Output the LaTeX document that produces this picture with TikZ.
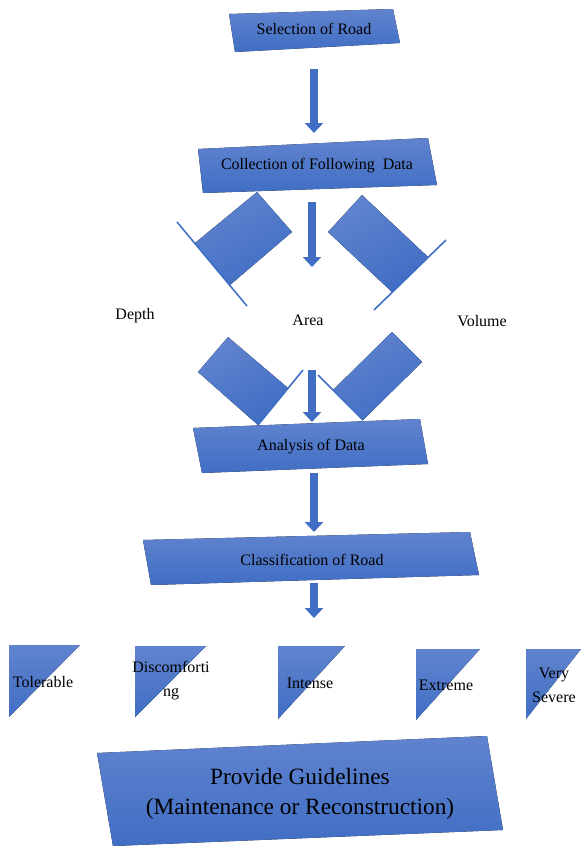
\documentclass[tikz,border=0pt]{standalone}
\usepackage{fontspec}
\setmainfont{Liberation Serif}
\usepackage{tikz}
\usetikzlibrary{
    arrows.meta,
    calc,
    positioning
}
\definecolor{boxtop}{RGB}{96,131,206}
\definecolor{boxbot}{RGB}{64,110,196}
\newcommand{\skewbox}[4]{
    \fill[boxfill] (#1) -- (#2) -- (#3) -- (#4) -- cycle;
}
\newcommand{\flagpart}[6]{
    \fill[flagfill] (#1) -- (#2) -- (#3) -- (#4) -- cycle;
    \draw[flagline] (#5) -- (#6);
}
\newcommand{\leveltri}[3]{
    \fill[boxfill] (#1) -- ($(#1) + (#2, 0)$) -- ($(#1) + (0, #3)$) -- cycle;
}

\begin{document}
\begin{tikzpicture}[x=0.75pt, y=-0.75pt,
    boxfill/.style={top color=boxtop, bottom color=boxbot},
    flagfill/.style={top color=boxtop, bottom color=boxbot, shading angle=30},
    flagline/.style={draw=boxbot, line width=1.2pt},
    blockarrow/.style={draw=boxbot, line width=6pt, -{Triangle[width=13.5pt, length=7.5pt]}},
    txt/.style={font=\fontsize{12}{18}\selectfont, align=center, inner sep=0pt}
]
\useasboundingbox (0, 0) rectangle (584, 846);
\skewbox{229, 14}{393, 9}{400, 43}{235, 52}
\skewbox{198, 149}{428, 138}{437, 185}{203, 193}
\skewbox{193, 428}{420, 419}{428, 464}{202, 473}
\skewbox{143, 540}{470, 532}{479, 575}{151, 585}
\skewbox{97, 753}{487, 736}{503, 830}{113, 846}
\flagpart{257, 192}{292, 232}{230, 285}{195, 243}{177, 222}{247, 306}
\flagpart{362, 195}{428, 257}{392, 292}{328, 232}{446, 240}{374, 310}
\flagpart{228, 337}{288, 388}{258, 425}{198, 372}{303, 370}{258, 425}
\flagpart{392, 332}{422, 362}{363, 420}{333, 390}{318, 375}{363, 420}
\leveltri{9, 645}{71}{72}
\leveltri{135, 646}{71}{71}
\leveltri{278, 646}{67}{73}
\leveltri{416, 649}{64}{71}
\leveltri{526, 649}{55}{70}
\node[txt] (sel) at (314, 29) {Selection of Road};
\node[txt] (col) at (317, 166) {Collection of Following\ \ Data};
\node[txt] (depth) at (135, 316) {Depth};
\node[txt] (area) at (308, 320) {Area};
\node[txt] (vol) at (482, 321) {Volume};
\node[txt] (ana) at (311, 447) {Analysis of Data};
\node[txt] (cls) at (312, 560) {Classification of Road};
\node[txt] (tol) at (43, 682) {Tolerable};
\node[txt] (dis) at (171, 681) {Discomforti\\ng};
\node[txt] (int) at (310, 683) {Intense};
\node[txt] (ext) at (446, 685) {Extreme};
\node[txt] (vsev) at (554, 685) {Very\\Severe};
\node[txt, font=\fontsize{17.5}{22.5}\selectfont] (guide) at (300, 794) {Provide Guidelines\\(Maintenance or Reconstruction)};
\coordinate (a1s) at (314, 69);
\coordinate (a1e) at (314, 133);
\coordinate (a2s) at (312, 202);
\coordinate (a2e) at (312, 267);
\coordinate (a3s) at (312, 370);
\coordinate (a3e) at (312, 422);
\coordinate (a4s) at (314, 473);
\coordinate (a4e) at (314, 532);
\coordinate (a5s) at (314, 583);
\coordinate (a5e) at (314, 618);
\draw[blockarrow] (a1s) -- (a1e);
\draw[blockarrow] (a2s) -- (a2e);
\draw[blockarrow] (a3s) -- (a3e);
\draw[blockarrow] (a4s) -- (a4e);
\draw[blockarrow] (a5s) -- (a5e);
\end{tikzpicture}
\end{document}
